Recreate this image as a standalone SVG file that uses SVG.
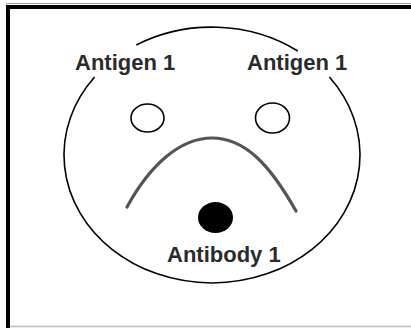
<svg xmlns="http://www.w3.org/2000/svg" width="411" height="328" viewBox="0 0 411 328">
  <style>
    .lbl { font-family: "Liberation Sans", Arial, sans-serif; font-weight: bold; font-size: 22px; fill: #2b2b2b; }
    .outline { fill: none; stroke: #000; stroke-width: 1.6; }
  </style>
  <rect x="0" y="0" width="411" height="328" fill="#fff"/>
  <g id="frame">
    <line x1="6" y1="3.5" x2="411" y2="3.5" stroke="#9a9a9a" stroke-width="1"/>
    <line x1="6" y1="7" x2="411" y2="7" stroke="#000" stroke-width="4"/>
    <line x1="8" y1="5" x2="8" y2="328" stroke="#000" stroke-width="4"/>
    <line x1="10" y1="326.5" x2="411" y2="326.5" stroke="#bdbdbd" stroke-width="1.5"/>
  </g>
  <g id="face">
    <path class="outline" d="M94.6,77 A148,128 0 1 0 329.4,77"/>
    <path class="outline" d="M136.3,45 A148,128 0 0 1 297.8,51"/>
  </g>
  <g id="left-eye">
    <ellipse cx="147.5" cy="118" rx="16.5" ry="14" class="outline"/>
  </g>
  <g id="right-eye">
    <ellipse cx="272.5" cy="118" rx="17" ry="15" class="outline"/>
  </g>
  <g id="frown">
    <path d="M127,207 C150,165 180,138 212,138 C245,138 270,165 296,211" fill="none" stroke="#555" stroke-width="3.2" stroke-linecap="round"/>
  </g>
  <g id="antibody-dot">
    <ellipse cx="215.5" cy="217.5" rx="17.5" ry="15.5" fill="#000"/>
  </g>
  <g id="labels">
    <text class="lbl" x="75" y="70">Antigen 1</text>
    <text class="lbl" x="247" y="70">Antigen 1</text>
    <text class="lbl" x="167" y="262">Antibody 1</text>
  </g>
</svg>
